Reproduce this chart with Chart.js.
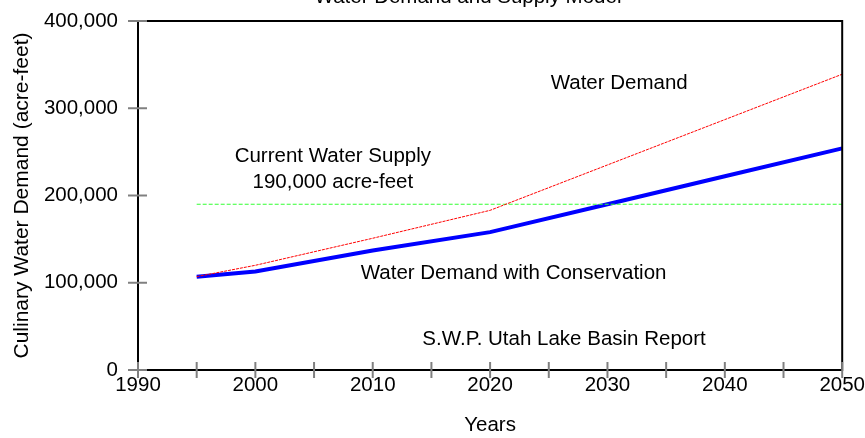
<!DOCTYPE html>
<html>
<head>
<meta charset="utf-8">
<script src="https://cdn.jsdelivr.net/npm/chart.js@4/dist/chart.umd.min.js"></script>
<style>
html,body{margin:0;padding:0;background:#fff;}
#wrap{width:865px;height:438px;position:relative;}
</style>
</head>
<body>
<div id="wrap"><canvas id="c" width="865" height="438"></canvas></div>
<script>
// ---- data ----
const years = [1995, 2000, 2010, 2020, 2030, 2040, 2050];
const demand = [107000, 120000, 151000, 183000, 235000, 287000, 339000];
const demandConservation = [107000, 113000, 137000, 158000, 190000, 222000, 254000];
const supplyYears = [1995, 2050];
const supply = [190000, 190000];
const titleText = 'Water Demand and Supply Model';
const xTitle = 'Years';
const yTitle = 'Culinary Water Demand (acre-feet)';
const noteTexts = ['Water Demand', 'Current Water Supply', '190,000 acre-feet', 'Water Demand with Conservation', 'S.W.P. Utah Lake Basin Report'];
const noteX = [2031.0, 2006.6, 2006.6, 2022.0, 2026.3];
const noteY = [329000, 245000, 215000, 111000, 35000];

const FONT = '"Liberation Sans", Arial, sans-serif';
const FS = 20.5;

const toXY = (xs, ys) => xs.map((x, i) => ({x: x, y: ys[i]}));

const framePlugin = {
  id: 'frame',
  afterDraw(chart) {
    const ctx = chart.ctx;
    const a = chart.chartArea;
    const xs = chart.scales.x, ys = chart.scales.y;
    ctx.save();
    ctx.strokeStyle = '#000';
    ctx.lineWidth = 2;
    ctx.strokeRect(a.left, a.top, a.right - a.left, a.bottom - a.top);
    ctx.strokeStyle = '#808080';
    ctx.lineWidth = 2;
    ys.ticks.forEach(t => {
      const py = ys.getPixelForValue(t.value);
      ctx.beginPath();
      ctx.moveTo(a.left - 10, py);
      ctx.lineTo(a.left + 9, py);
      ctx.stroke();
    });
    xs.ticks.forEach(t => {
      const px = xs.getPixelForValue(t.value);
      ctx.beginPath();
      ctx.moveTo(px, a.bottom - 8);
      ctx.lineTo(px, a.bottom + 8);
      ctx.stroke();
    });
    ctx.fillStyle = '#000';
    ctx.font = FS + 'px ' + FONT;
    ctx.textAlign = 'center';
    ctx.textBaseline = 'middle';
    noteTexts.forEach((t, i) => {
      ctx.fillText(t, xs.getPixelForValue(noteX[i]), ys.getPixelForValue(noteY[i]));
    });
    ctx.textBaseline = 'alphabetic';
    ctx.fillText(titleText, 468, 3);
    ctx.restore();
  }
};

new Chart(document.getElementById('c'), {
  type: 'line',
  data: {
    datasets: [
      {
        label: 'Water Demand',
        data: toXY(years, demand),
        borderColor: '#ff0000',
        borderWidth: 1,
        borderDash: [3, 1],
        pointRadius: 0,
        fill: false,
        tension: 0
      },
      {
        label: 'Current Water Supply',
        data: toXY(supplyYears, supply),
        borderColor: '#33ff33',
        borderWidth: 1.2,
        borderDash: [4, 2],
        pointRadius: 0,
        fill: false
      },
      {
        label: 'Water Demand with Conservation',
        data: toXY(years, demandConservation),
        borderColor: '#0000ff',
        borderWidth: 4,
        pointRadius: 0,
        fill: false,
        tension: 0
      }
    ]
  },
  options: {
    responsive: false,
    animation: false,
    layout: {padding: {left: 0, right: 22, top: 21, bottom: 0}},
    plugins: {legend: {display: false}, tooltip: {enabled: false}, title: {display: false}},
    scales: {
      x: {
        type: 'linear',
        min: 1990, max: 2050,
        grid: {display: true, drawOnChartArea: false, drawTicks: true, tickLength: 3, color: 'rgba(0,0,0,0)'},
        border: {display: false},
        ticks: {
          stepSize: 5,
          autoSkip: false,
          maxRotation: 0,
          padding: 0,
          color: '#000',
          font: {family: FONT, size: FS},
          callback: v => (v % 10 === 0 ? String(v) : '')
        },
        title: {display: true, text: xTitle, color: '#000', font: {family: FONT, size: FS}, padding: {top: 0, bottom: 0}},
        afterFit: s => { s.height = 68; }
      },
      y: {
        min: 0, max: 400000,
        grid: {display: true, drawOnChartArea: false, drawTicks: true, tickLength: 20, color: 'rgba(0,0,0,0)'},
        border: {display: false},
        ticks: {
          stepSize: 100000,
          padding: 0,
          color: '#000',
          font: {family: FONT, size: FS},
          callback: v => v.toLocaleString('en-US')
        },
        title: {display: true, text: yTitle, color: '#000', font: {family: FONT, size: 21}, padding: {top: 10, bottom: 0}},
        afterFit: s => { s.width = 138; }
      }
    }
  },
  plugins: [framePlugin]
});
</script>
</body>
</html>
